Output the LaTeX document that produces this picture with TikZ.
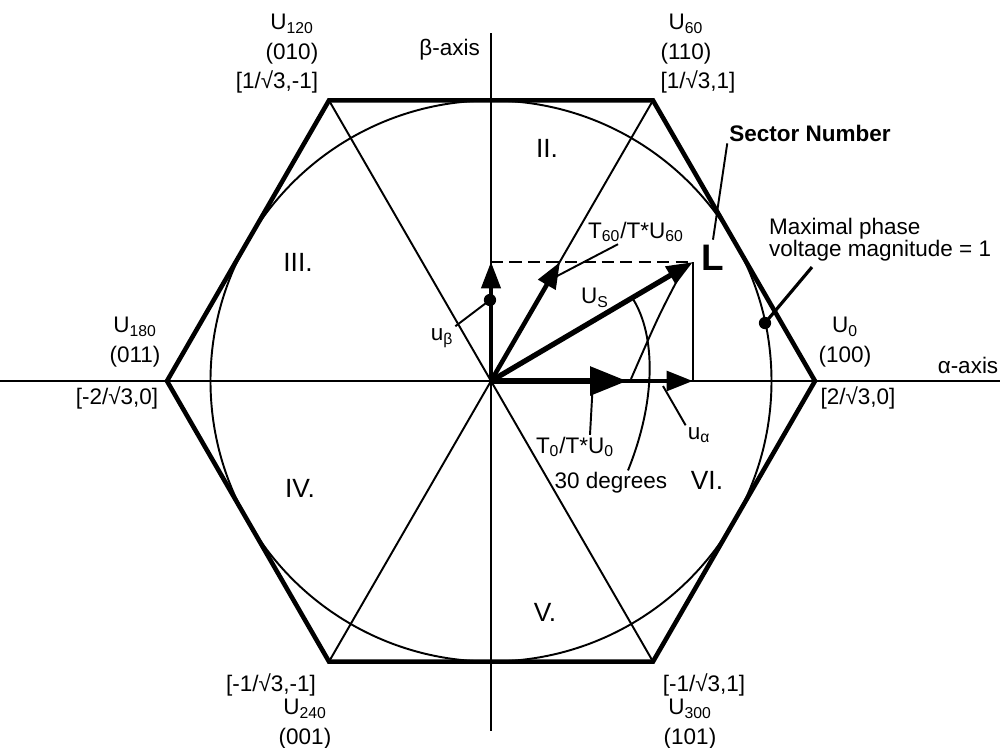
\documentclass[tikz,border=0pt]{standalone}
\usepackage{fontspec}
\setmainfont{Liberation Sans}
\usetikzlibrary{arrows.meta}

\begin{document}
\begin{tikzpicture}[
    >={Triangle[length=15pt,width=11pt]},
    every node/.style={font=\fontsize{12.8}{17}\selectfont, inner sep=1pt},
    hexedge/.style={line width=2.6pt, line join=miter},
    thinline/.style={line width=1.1pt},
    axisline/.style={line width=1.3pt},
    vecarrow/.style={->, line width=2.6pt},
    bigvecarrow/.style={-{Triangle[length=21pt,width=16pt]}, line width=3pt},
    leader/.style={line width=1.1pt},
    projline/.style={line width=1.3pt, dash pattern=on 7pt off 3.5pt},
    leaderdot/.style={circle, fill, inner sep=0pt, minimum size=7pt},
    vertexlabel/.style={align=center},
    sectorlabel/.style={font=\fontsize{15}{17}\selectfont},
    boldlabel/.style={font=\fontsize{12.8}{15}\selectfont\bfseries},
    biglabel/.style={font=\fontsize{21}{21}\selectfont\bfseries}
]
    \useasboundingbox (-9.82,-7.32) rectangle (10.18,7.62);

% -------------------------
% Hexagon, circle and diagonals
% -------------------------
    \coordinate (O) at (0,0);
    \coordinate (V0) at (0:6.48);
    \coordinate (V60) at (60:6.48);
    \coordinate (V120) at (120:6.48);
    \coordinate (V180) at (180:6.48);
    \coordinate (V240) at (240:6.48);
    \coordinate (V300) at (300:6.48);

    \draw[thinline] (O) circle (5.61);
    \draw[thinline] (V60) -- (V240);
    \draw[thinline] (V120) -- (V300);

    % axes
    \coordinate (aleft) at (-9.82,0);
    \coordinate (aright) at (10.18,0);
    \coordinate (btop) at (0,6.96);
    \coordinate (bbottom) at (0,-7.0);
    \draw[axisline] (aleft) -- (aright);
    \draw[axisline] (btop) -- (bbottom);

    \draw[hexedge] (V0) -- (V60) -- (V120) -- (V180) -- (V240) -- (V300) -- cycle;

% -------------------------
% Vectors
% -------------------------
    \coordinate (Us) at (4.04,2.38);
    \coordinate (U60tip) at (1.38,2.38);
    \coordinate (ubtip) at (0,2.38);
    \coordinate (T0tip) at (2.72,0);
    \coordinate (uatip) at (4.04,0);

    \draw[projline] (ubtip) -- (Us);
    \draw[thinline] (Us) -- (uatip);
    \draw[vecarrow] (O) -- (uatip);
    \draw[bigvecarrow] (O) -- (T0tip);
    \draw[vecarrow, line width=1.8pt] (O) -- (ubtip);
    \draw[vecarrow] (O) -- (U60tip);
    \draw[vecarrow, line width=3pt] (O) -- (Us);

% -------------------------
% Vertex labels
% -------------------------
    \node[vertexlabel] (u60) at (3.90,6.84) {U\textsubscript{60}\\(110)};
    \node (b60) at (4.14,5.98) {[1/√3,1]};
    \node[vertexlabel] (u120) at (-3.98,6.84) {U\textsubscript{120}\\(010)};
    \node (b120) at (-4.28,5.98) {[1/√3,-1]};
    \node[vertexlabel] (u180) at (-7.12,0.78) {U\textsubscript{180}\\(011)};
    \node (b180) at (-7.48,-0.34) {[-2/√3,0]};
    \node[vertexlabel] (u0) at (7.08,0.78) {U\textsubscript{0}\\(100)};
    \node (b0) at (7.34,-0.34) {[2/√3,0]};
    \node (b240) at (-4.40,-6.08) {[-1/√3,-1]};
    \node[vertexlabel] (u240) at (-3.72,-6.87) {U\textsubscript{240}\\(001)};
    \node (b300) at (4.26,-6.08) {[-1/√3,1]};
    \node[vertexlabel] (u300) at (3.98,-6.87) {U\textsubscript{300}\\(101)};

    % axis labels
    \node[anchor=east] (betalabel) at (-0.18,6.62) {β-axis};
    \node (alphalabel) at (9.54,0.32) {α-axis};

    % sectors
    \node[sectorlabel] (s2) at (1.12,4.66) {II.};
    \node[sectorlabel] (s3) at (-3.86,2.38) {III.};
    \node[sectorlabel] (s4) at (-3.82,-2.14) {IV.};
    \node[sectorlabel] (s5) at (1.08,-4.62) {V.};
    \node[sectorlabel] (s6) at (4.32,-1.98) {VI.};

% -------------------------
% Vector labels and leaders
% -------------------------
    \node (ubeta) at (-0.98,0.86) {u\textsubscript{β}};
    \coordinate (ubetaend) at (-0.02,1.62);
    \draw[leader] (ubeta.north east) -- (ubetaend);
    \node[leaderdot] at (ubetaend) {};

    \node (t60) at (2.90,2.98) {T\textsubscript{60}/T*U\textsubscript{60}};
    \coordinate (t60end) at (1.17,2.02);
    \draw[leader] ([xshift=-0.36cm]t60.south) -- (t60end);
    \node[leaderdot] at (t60end) {};

    \node (uslabel) at (2.08,1.66) {U\textsubscript{S}};

    \node (t0) at (1.68,-1.32) {T\textsubscript{0}/T*U\textsubscript{0}};
    \coordinate (t0end) at (2.04,0);
    \draw[leader] ([xshift=0.30cm]t0.north) -- (t0end);

    \node (ualpha) at (4.16,-1.08) {u\textsubscript{α}};
    \coordinate (ualphaend) at (3.44,-0.10);
    \draw[leader] (ualpha.north west) -- (ualphaend);

    \node (deg) at (2.40,-2.04) {30 degrees};
    \coordinate (degend) at (2.84,1.64);
    \draw[leader] ([xshift=0.34cm]deg.north) .. controls (3.3,-0.4) and (3.3,0.9) .. (degend);
    \coordinate (arcstart) at (3.80,2.16);
    \coordinate (arcend) at (2.80,0.04);
    \draw[leader] (arcstart) .. controls (3.35,1.3) .. (arcend);

% -------------------------
% Sector number and maximal magnitude
% -------------------------
    \node[biglabel] (Lmark) at (4.44,2.46) {L};
    \node[boldlabel] (sectornum) at (6.38,4.96) {Sector Number};
    \draw[leader] (sectornum.south west) -- ([yshift=2pt]Lmark.north);

    \node[anchor=west, align=left, font=\fontsize{12.8}{12.5}\selectfont] (maxlabel) at (5.52,2.82) {Maximal phase\\voltage magnitude = 1};
    \coordinate (maxend) at (5.48,1.16);
    \draw[leader, line width=1.8pt] ([xshift=0.9cm,yshift=-2pt]maxlabel.south west) -- (maxend);
    \node[leaderdot] at (maxend) {};
\end{tikzpicture}
\end{document}
